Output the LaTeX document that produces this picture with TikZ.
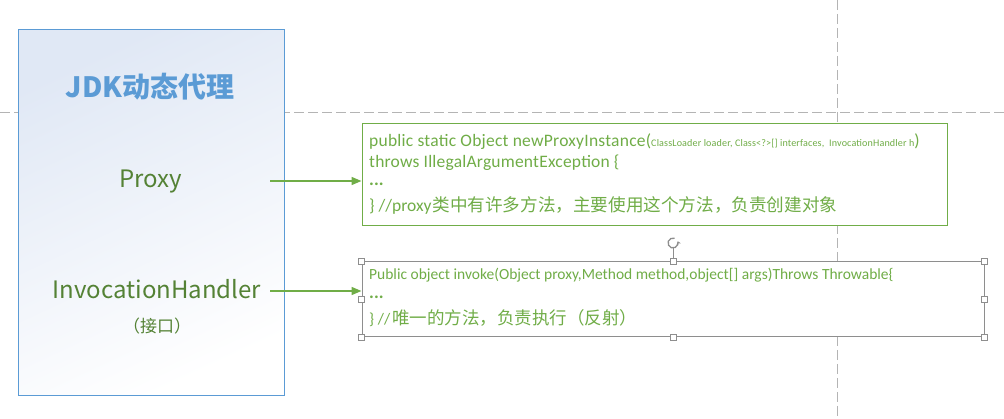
\documentclass[tikz,border=0pt]{standalone}
\usepackage{fontspec}
\setmainfont{Carlito}
\newfontfamily\cjk{Noto Sans CJK SC}
\usetikzlibrary{arrows.meta,positioning,calc}
\definecolor{FrameBlue}{HTML}{5B9BD5}
\definecolor{PanelTint}{HTML}{E0E8F5}
\definecolor{LeafGreen}{HTML}{70AD47}
\definecolor{DarkGreen}{HTML}{548235}
\definecolor{GuideGray}{HTML}{B4B4B4}
\definecolor{HandleGray}{HTML}{8E8E8E}

\begin{document}
\begin{tikzpicture}[x=1pt, y=-1pt,
    guide/.style={GuideGray, line width=1pt, dash pattern=on 10pt off 4pt},
    panel/.style={draw=FrameBlue, line width=1pt, minimum width=266pt, minimum height=366pt,
        top color=PanelTint, bottom color=white, shading angle=25},
    label/.style={inner sep=0pt, anchor=base, text=DarkGreen, font=\cjk\fontsize{24}{28}\selectfont},
    codebox/.style={fill=white, line width=1pt, inner sep=0pt},
    codeline/.style={inner sep=0pt, anchor=base west, text=LeafGreen},
    arrow/.style={-{Triangle[length=10pt, width=8pt]}, line width=1.5pt, LeafGreen},
    handle/.style={draw=HandleGray, fill=white, line width=0.8pt, minimum size=6pt, inner sep=0pt},
]
    \useasboundingbox (0,0) rectangle (1004,419);

    % guides
    \draw[guide] (0,113) -- (1004,113);
    \draw[guide] (837,0) -- (837,419);

    % left panel
    \node[panel] (jdk) at (151,213) {};
    \node[inner sep=0pt, anchor=base, text=FrameBlue, font=\cjk\bfseries\fontsize{28}{32}\selectfont]
        (title) at (150,98) {JDK动态代理};
    \node[label] (proxy) at (151,188) {Proxy};
    \node[label] (handler) at (157,299) {InvocationHandler};
    \node[inner sep=0pt, anchor=base, text=DarkGreen, font=\cjk\fontsize{17}{20}\selectfont]
        (iface) at (157,333) {（接口）};

    % code boxes
    \node[codebox, draw=LeafGreen, minimum width=585pt, minimum height=102pt] (codeA) at (654.5,175) {};
    \node[codebox, draw=HandleGray, minimum width=622pt, minimum height=75pt] (codeB) at (673,299.5) {};

    \node[codeline, font=\fontsize{17.5}{20}\selectfont\addfontfeature{LetterSpace=1.4}] (a1) at (369,147)
        {public static Object newProxyInstance({\fontsize{10.1}{12}\selectfont ClassLoader loader, Class<?>[] interfaces,~ InvocationHandler h})};
    \node[codeline, font=\fontsize{17.5}{20}\selectfont\addfontfeature{LetterSpace=1.2}] (a2) at (369,168) {throws IllegalArgumentException \{};
    \node[codeline, font=\bfseries\fontsize{18}{20}\selectfont] (a3) at (369,186) {...};
    \node[codeline, font=\fontsize{17.5}{20}\selectfont] (a4) at (369,212)
        {\} //proxy\hspace{1pt}{\cjk\fontsize{17.6}{20}\selectfont 类中有许多方法，主要使用这个方法，负责创建对象}};

    \node[codeline, font=\fontsize{15.5}{18}\selectfont] (b1) at (369,280)
        {Public object invoke(Object proxy,Method method,object[] args)Throws Throwable\{};
    \node[codeline, font=\bfseries\fontsize{18}{20}\selectfont] (b2) at (369,299) {...};
    \node[codeline, font=\fontsize{16}{18}\selectfont] (b3) at (369,325)
        {\} //\hspace{2pt}{\cjk\fontsize{17.5}{20}\selectfont 唯一的方法，负责执行（反射）}};

    % arrows
    \coordinate (proxyout) at (270,181);
    \coordinate (handlerout) at (270,291);
    \draw[arrow] (proxyout) -- (codeA.west |- proxyout);
    \draw[arrow] (handlerout) -- (codeB.west |- handlerout);

    % selection handles
    \node[circle, inner sep=0pt, minimum size=10pt] (rot) at (673,243) {};
    \draw[HandleGray, line width=1.3pt, -{Stealth[length=3pt, width=4.5pt]}]
        ($(rot.center)+(70:5pt)$) arc[start angle=70, end angle=380, radius=5pt];
    \draw[HandleGray, line width=0.8pt] (rot.south) -- (codeB.north);
    \foreach \a [count=\i] in {north west, north, north east, east, south east, south, south west, west}
        \node[handle] (h\i) at (codeB.\a) {};
\end{tikzpicture}
\end{document}
